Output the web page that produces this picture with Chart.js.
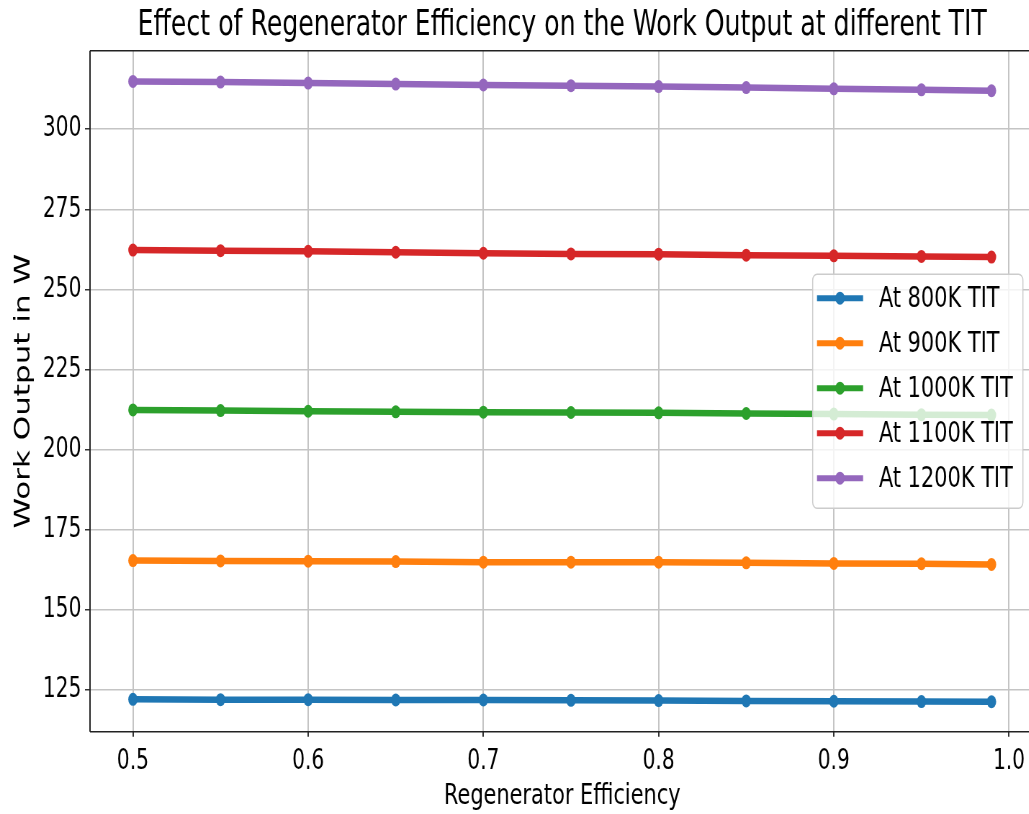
<!DOCTYPE html>
<html>
<head>
<meta charset="utf-8">
<title>Effect of Regenerator Efficiency on the Work Output at different TIT</title>
<script src="https://cdn.jsdelivr.net/npm/chart.js@4.4.1/dist/chart.umd.min.js"></script>
<style>
  html, body { margin: 0; padding: 0; background: #fff; overflow: hidden; width: 1029px; height: 814px; }
  /* the reference is squeezed sideways, so draw wide and scale x down */
  #wrap { width: 1440px; height: 814px; transform: scale(0.72, 1); transform-origin: 0 0; }
</style>
</head>
<body>
<div id="wrap"><canvas id="chart" width="1440" height="814"></canvas></div>
<script>
// regenerator efficiency (x)
const efficiency = [0.5, 0.55, 0.6, 0.65, 0.7, 0.75, 0.8, 0.85, 0.9, 0.95, 0.99]

// work output in W
const tit800  = [122.1, 122.0, 122.0, 121.9, 121.9, 121.8, 121.7, 121.6, 121.5, 121.4, 121.35]
const tit900  = [165.4, 165.3, 165.2, 165.1, 164.9, 164.9, 164.9, 164.7, 164.5, 164.4, 164.2]
const tit1000 = [212.4, 212.2, 212.0, 211.8, 211.7, 211.6, 211.5, 211.3, 211.1, 210.9, 210.8]
const tit1100 = [262.3, 262.1, 261.9, 261.6, 261.3, 261.1, 261.0, 260.7, 260.5, 260.3, 260.1]
const tit1200 = [314.9, 314.7, 314.4, 314.1, 313.8, 313.6, 313.3, 313.0, 312.6, 312.3, 312.0]

const seriesNames = ['At 800K TIT', 'At 900K TIT', 'At 1000K TIT', 'At 1100K TIT', 'At 1200K TIT']
const seriesData = [tit800, tit900, tit1000, tit1100, tit1200]
const seriesColors = ['#1f77b4', '#ff7f0e', '#2ca02c', '#d62728', '#9467bd']

const xTicks = [0.5, 0.6, 0.7, 0.8, 0.9, 1.0]
const yTicks = [125, 150, 175, 200, 225, 250, 275, 300]

const FONT = 'DejaVu Sans'
const X_MIN = 0.4755, X_MAX = 1.0145
const Y_MIN = 112, Y_MAX = 324.5

// axes frame (matplotlib spines)
const framePlugin = {
    id: 'frame',
    afterDatasetsDraw(chart){
        const {ctx, chartArea: a} = chart
        ctx.save()
        ctx.strokeStyle = '#222'
        ctx.lineWidth = 1.6
        ctx.beginPath()
        ctx.moveTo(a.left, a.top); ctx.lineTo(a.right, a.top)
        ctx.moveTo(a.left, a.bottom); ctx.lineTo(a.right, a.bottom)
        ctx.stroke()
        ctx.lineWidth = 2
        ctx.beginPath()
        ctx.moveTo(a.left, a.top); ctx.lineTo(a.left, a.bottom)
        ctx.moveTo(a.right, a.top); ctx.lineTo(a.right, a.bottom)
        ctx.stroke()
        ctx.restore()
    }
}

// legend box at "center right" inside the axes
const legendPlugin = {
    id: 'boxLegend',
    afterDraw(chart){
        const {ctx, chartArea: a} = chart
        const sets = chart.data.datasets
        const w = 292, rowH = 45, h = 234
        const right = a.right - 16
        const left = right - w
        const top = (a.top + a.bottom) / 2 - h / 2
        ctx.save()
        ctx.beginPath()
        ctx.roundRect(left, top, w, h, 6)
        ctx.fillStyle = 'rgba(255,255,255,0.8)'
        ctx.fill()
        ctx.strokeStyle = '#cccccc'
        ctx.lineWidth = 1.5
        ctx.stroke()
        sets.forEach((ds, i) => {
            const cy = top + 24 + i * rowH
            ctx.strokeStyle = ds.borderColor
            ctx.lineWidth = 6
            ctx.lineCap = 'butt'
            ctx.beginPath()
            ctx.moveTo(left + 6, cy)
            ctx.lineTo(left + 70, cy)
            ctx.stroke()
            ctx.fillStyle = ds.borderColor
            ctx.beginPath()
            ctx.arc(left + 38, cy, 6.5, 0, Math.PI * 2)
            ctx.fill()
            ctx.fillStyle = '#000'
            ctx.font = '29px "' + FONT + '"'
            ctx.textAlign = 'left'
            ctx.textBaseline = 'middle'
            ctx.fillText(ds.label, left + 92, cy + 1.5)
        })
        ctx.restore()
    }
}

const ctx = document.getElementById('chart').getContext('2d')
const myChart = new Chart(ctx, {
    type: 'line',
    data: {
        datasets: seriesNames.map((name, i) => ({
            label: name,
            data: efficiency.map((x, j) => ({x: x, y: seriesData[i][j]})),
            borderColor: seriesColors[i],
            backgroundColor: seriesColors[i],
            pointBackgroundColor: seriesColors[i],
            pointBorderWidth: 0,
            pointRadius: 6.5,
            borderWidth: 6.5,
            tension: 0,
            fill: false
        }))
    },
    options: {
        responsive: false,
        animation: false,
        events: [],
        layout: { padding: { left: 0, top: 0, right: 3.3, bottom: 0 }, autoPadding: false },
        plugins: {
            legend: { display: false },
            title: { display: false },
            tooltip: { enabled: false }
        },
        scales: {
            x: {
                type: 'linear',
                position: 'bottom',
                min: X_MIN,
                max: X_MAX,
                afterBuildTicks: axis => { axis.ticks = xTicks.map(v => ({value: v})) },
                afterFit: axis => { axis.height = 82.3 },
                border: { display: false },
                grid: { color: '#c4c4c4', lineWidth: 2, tickLength: 5, tickColor: '#333', tickWidth: 2 },
                ticks: {
                    padding: 8,
                    color: '#000',
                    font: { family: FONT, size: 28 },
                    maxRotation: 0,
                    callback: v => Number(v).toFixed(1)
                },
                title: {
                    display: true,
                    text: 'Regenerator Efficiency',
                    color: '#000',
                    font: { family: FONT, size: 29 },
                    padding: { top: 0, bottom: 0 }
                }
            },
            x2: {
                type: 'linear',
                position: 'top',
                min: X_MIN,
                max: X_MAX,
                afterFit: axis => { axis.height = 50.7 },
                border: { display: false },
                grid: { display: false, drawTicks: false },
                ticks: { display: false },
                title: {
                    display: true,
                    text: 'Effect of Regenerator Efficiency on the Work Output at different TIT',
                    color: '#000',
                    font: { family: FONT, size: 35 },
                    padding: { top: 5, bottom: 4 }
                }
            },
            y: {
                type: 'linear',
                min: Y_MIN,
                max: Y_MAX,
                afterBuildTicks: axis => { axis.ticks = yTicks.map(v => ({value: v})) },
                afterFit: axis => { axis.width = 125 },
                border: { display: false },
                grid: { color: '#c4c4c4', lineWidth: 1.5, tickLength: 7, tickColor: '#333', tickWidth: 1.5 },
                ticks: {
                    padding: 5,
                    color: '#000',
                    font: { family: FONT, size: 28 },
                    callback: v => String(v)
                },
                title: {
                    display: true,
                    text: 'Work Output in W',
                    color: '#000',
                    font: { family: FONT, size: 31 },
                    padding: { top: 14, bottom: 0 }
                }
            }
        }
    },
    plugins: [framePlugin, legendPlugin]
});
</script>
</body>
</html>
